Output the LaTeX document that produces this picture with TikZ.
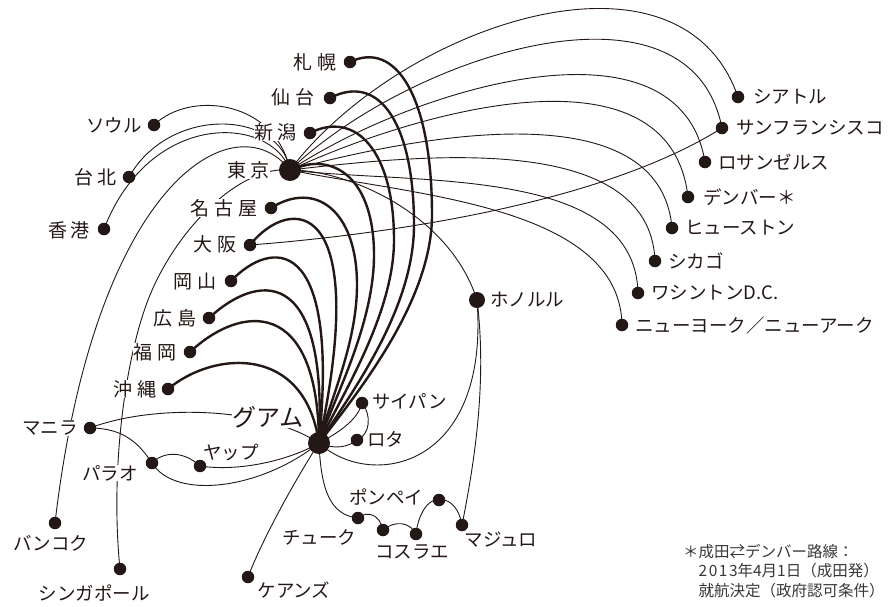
\documentclass[tikz,border=0pt]{standalone}
\usepackage{fontspec}
\setmainfont{Noto Sans CJK JP}
\definecolor{ink}{RGB}{35,24,21}
\definecolor{notec}{RGB}{60,55,55}
\pgfdeclarelayer{bg}
\pgfdeclarelayer{lines}
\pgfsetlayers{bg,lines,main}
\begin{document}
\begin{tikzpicture}[x=1pt,y=-1pt,
  dot/.style={circle,fill=ink,inner sep=0pt,minimum size=12.5pt},
  hub/.style={circle,fill=ink,inner sep=0pt,minimum size=22pt},
  lbl/.style={font=\fontsize{18.5}{20}\selectfont,text=ink,fill=white,inner sep=0.5pt},
  kl/.style={lbl,font=\fontsize{19}{21}\selectfont},
  thin/.style={draw=ink,line width=0.9pt},
  thk/.style={draw=ink,line width=2.4pt}]
\begin{pgfonlayer}{bg}
\fill[white] (0,0) rectangle (892,606);
\end{pgfonlayer}
\useasboundingbox (0,0) rectangle (892,606);
% hubs
\node[hub] (T) at (290,170) {};
\node[hub] (G) at (319,443) {};
\node[dot,minimum size=16pt] (hnl) at (477,300) {};
% Japan
\node[dot] (sap) at (350,62) {};
\node[dot] (sdj) at (330,98) {};
\node[dot] (kij) at (310,133) {};
\node[dot] (ngo) at (271,208) {};
\node[dot] (osa) at (250,245) {};
\node[dot] (oka) at (231,281) {};
\node[dot] (hij) at (209,318) {};
\node[dot] (fuk) at (190,352) {};
\node[dot] (oki) at (168,389) {};
% Asia
\node[dot] (sel) at (154,125) {};
\node[dot] (tpe) at (129,177) {};
\node[dot] (hkg) at (104,229) {};
\node[dot] (bkk) at (55,523) {};
\node[dot] (sin) at (120,569) {};
\node[dot] (mnl) at (90,428) {};
\node[dot] (pal) at (152,463) {};
\node[dot] (yap) at (200,466) {};
\node[dot] (cns) at (248,577) {};
% Micronesia
\node[dot] (spn) at (362,403) {};
\node[dot] (rot) at (357,440) {};
\node[dot] (chk) at (358,518) {};
\node[dot] (pni) at (383,530) {};
\node[dot] (ksa) at (416,534) {};
\node[dot] (kwa) at (439,500) {};
\node[dot] (maj) at (462,525) {};
% USA
\node[dot] (sea) at (738,97) {};
\node[dot] (sfo) at (722,128) {};
\node[dot] (lax) at (705,162) {};
\node[dot] (den) at (688,197) {};
\node[dot] (iah) at (672,228) {};
\node[dot] (chi) at (655,261) {};
\node[dot] (was) at (638,293) {};
\node[dot] (nyc) at (622,325) {};

% labels
\node[kl,anchor=east] (lsap) at (337.5,62) {札\kern5pt 幌};
\node[kl,anchor=east] (lsdj) at (315.5,97) {仙\kern5pt 台};
\node[kl,anchor=east] (lkij) at (297.5,132) {新\kern4pt 潟};
\node[kl,anchor=east] (lT) at (270.5,170) {東\kern4pt 京};
\node[kl,anchor=east] (lngo) at (258.5,208) {名\kern5pt 古\kern5pt 屋};
\node[kl,anchor=east] (losa) at (237.5,244) {大\kern5pt 阪};
\node[kl,anchor=east] (loka) at (217.5,281) {岡\kern5pt 山};
\node[kl,anchor=east] (lhij) at (197.5,318) {広\kern5pt 島};
\node[kl,anchor=east] (lfuk) at (177.5,352) {福\kern5pt 岡};
\node[kl,anchor=east] (loki) at (157.5,389) {沖\kern5pt 縄};
\node[lbl,anchor=east] (lsel) at (142.5,125) {ソウル};
\node[kl,anchor=east] (ltpe) at (117.5,177) {台\kern4pt 北};
\node[kl,anchor=east] (lhkg) at (90.5,230) {香\kern3pt 港};
\node[lbl,anchor=west] (lsea) at (752.5,97) {シアトル};
\node[lbl,anchor=west] (lsfo) at (735.5,128) {サンフランシスコ};
\node[lbl,anchor=west] (llax) at (717.5,162) {ロサンゼルス};
\node[lbl,anchor=west] (lden) at (702.5,197) {デンバー＊};
\node[lbl,anchor=west] (liah) at (684.5,228) {ヒューストン};
\node[lbl,anchor=west] (lchi) at (667.5,261) {シカゴ};
\node[lbl,anchor=west] (lwas) at (650.5,293) {ワシントンD.C.};
\node[lbl,anchor=west] (lnyc) at (634.5,325) {ニューヨーク／ニューアーク};
\node[lbl,anchor=west] (lhnl) at (489.5,300) {ホノルル};
\node[lbl,anchor=west] (lspn) at (371.5,401) {サイパン};
\node[lbl,anchor=west] (lrot) at (366.5,439) {ロタ};
\node[lbl,anchor=west] (lyap) at (202.5,452) {ヤップ};
\node[lbl] (lpal) at (110,473) {パラオ};
\node[lbl,anchor=east] (lmnl) at (78.5,428) {マニラ};
\node[lbl] (lbkk) at (51,543) {バンコク};
\node[lbl] (lsin) at (94,593) {シンガポール};
\node[lbl] (lcns) at (294,590) {ケアンズ};
\node[lbl] (lchk) at (319,537) {チューク};
\node[lbl] (lpni) at (386,497) {ポンペイ};
\node[lbl] (lksa) at (412,552) {コスラエ};
\node[lbl] (lmaj) at (501,540) {マジュロ};
\node[lbl,font=\fontsize{24}{26}\selectfont] (lG) at (268,417) {グアム};
\node[anchor=west,align=left,text=notec,font=\fontsize{15.5}{19.5}\selectfont,inner sep=0pt] (note) at (683,571)
  {＊成田⇄デンバー路線：\\
   \phantom{＊}2\kern1.5pt 0\kern1.5pt 1\kern1.5pt 3年4月1日（成田発）\\
   \phantom{＊}就航決定（政府認可条件）};

\begin{pgfonlayer}{lines}
% thick lines Japan -> Guam
\draw[thk] (sap.center) .. controls (395,40) and (432,95) .. (432,215) .. controls (432,300) and (360,390) .. (G.center);
\draw[thk] (sdj.center) .. controls (380,72) and (414,125) .. (414,225) .. controls (414,310) and (350,395) .. (G.center);
\draw[thk] (kij.center) .. controls (355,110) and (394,150) .. (394,240) .. controls (394,315) and (340,398) .. (G.center);
\draw[thk] (T.center) .. controls (335,150) and (374,180) .. (374,255) .. controls (374,325) and (333,400) .. (G.center);
\draw[thk] (ngo.center) .. controls (315,180) and (357,210) .. (357,285) .. controls (357,345) and (328,405) .. (G.center);
\draw[thk] (osa.center) .. controls (290,195) and (372,195) .. (G.center);
\draw[thk] (oka.center) .. controls (270,240) and (340,230) .. (G.center);
\draw[thk] (hij.center) .. controls (255,275) and (328,260) .. (G.center);
\draw[thk] (fuk.center) .. controls (240,305) and (318,295) .. (G.center);
\draw[thk] (oki.center) .. controls (215,350) and (305,345) .. (G.center);
% Tokyo -> USA
\draw[thin] (T.center) .. controls (400,25) and (680,-70) .. (sea.center);
\draw[thin] (T.center) .. controls (410,55) and (690,-35) .. (sfo.center);
\draw[thin] (T.center) .. controls (420,85) and (680,10) .. (lax.center);
\draw[thin] (T.center) .. controls (420,110) and (670,40) .. (den.center);
\draw[thin] (T.center) .. controls (420,135) and (660,90) .. (iah.center);
\draw[thin] (T.center) .. controls (420,155) and (650,130) .. (chi.center);
\draw[thin] (T.center) .. controls (415,185) and (635,165) .. (was.center);
\draw[thin] (T.center) .. controls (410,195) and (620,205) .. (nyc.center);
\draw[thin] (T.center) .. controls (350,170) and (450,215) .. (hnl.center);
\draw[thin] (osa.center) .. controls (380,235) and (600,205) .. (sfo.center);
% Tokyo -> Asia
\draw[thin] (T.center) .. controls (275,100) and (190,90) .. (sel.center);
\draw[thin] (T.center) .. controls (280,110) and (170,105) .. (tpe.center);
\draw[thin] (T.center) .. controls (270,115) and (150,110) .. (hkg.center);
\draw[thin] (T.center) .. controls (235,100) and (95,180) .. (bkk.center);
\draw[thin] (T.center) .. controls (240,165) and (175,230) .. (148,300) .. controls (125,360) and (110,470) .. (sin.center);
% Guam network
\draw[thin] (mnl.center) .. controls (150,405) and (260,405) .. (G.center);
\draw[thin] (mnl.center) .. controls (125,428) and (140,445) .. (pal.center);
\draw[thin] (pal.center) .. controls (165,450) and (185,452) .. (yap.center);
\draw[thin] (yap.center) .. controls (240,472) and (290,460) .. (G.center);
\draw[thin] (pal.center) .. controls (175,500) and (260,490) .. (G.center);
\draw[thin] (G.center) .. controls (295,480) and (262,540) .. (cns.center);
\draw[thin] (G.center) .. controls (338,433) and (358,420) .. (spn.center);
\draw[thin] (spn.center) .. controls (372,415) and (370,435) .. (rot.center);
\draw[thin] (G.center) .. controls (335,450) and (348,447) .. (rot.center);
\draw[thin] (G.center) .. controls (370,490) and (490,470) .. (hnl.center);
\draw[thin] (hnl.center) .. controls (487,380) and (475,460) .. (maj.center);
\draw[thin] (G.center) .. controls (321,490) and (330,515) .. (chk.center);
\draw[thin] (chk.center) .. controls (368,510) and (380,515) .. (pni.center);
\draw[thin] (pni.center) .. controls (395,520) and (410,522) .. (ksa.center);
\draw[thin] (ksa.center) .. controls (418,515) and (428,498) .. (kwa.center);
\draw[thin] (kwa.center) .. controls (452,498) and (460,512) .. (maj.center);
\end{pgfonlayer}
\end{tikzpicture}
\end{document}
